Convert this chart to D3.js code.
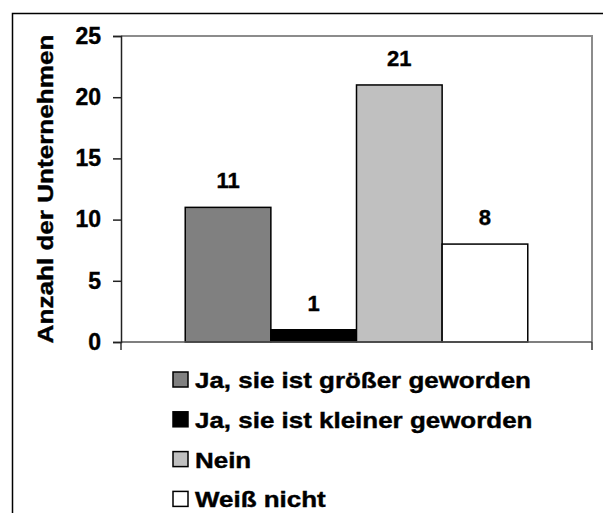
<!DOCTYPE html>
<html>
<head>
<meta charset="utf-8">
<script src="https://cdn.jsdelivr.net/npm/d3@7"></script>
<style>
  html, body { margin: 0; padding: 0; background: #fff; }
  svg { display: block; }
  text { font-family: "Liberation Sans", Arial, sans-serif; font-weight: bold; fill: #000; }
</style>
</head>
<body>
<svg id="chart" width="603" height="513"></svg>
<script>
const categories = [""];
const seriesNames = ["Ja, sie ist größer geworden", "Ja, sie ist kleiner geworden", "Nein", "Weiß nicht"];
const seriesValues = [11, 1, 21, 8];
const seriesColors = ["#808080", "#000000", "#c0c0c0", "#ffffff"];
const yTicks = [0, 5, 10, 15, 20, 25];
const yTitle = "Anzahl der Unternehmen";

const svg = d3.select("#chart");
const W = 603, H = 513;
svg.append("rect").attr("x", 0).attr("y", 0).attr("width", W).attr("height", H).attr("fill", "#fff");
// outer chart border (clipped on right/bottom)
svg.append("rect").attr("x", 12.5).attr("y", 13.5).attr("width", 620).attr("height", 540)
  .attr("fill", "none").attr("stroke", "#000").attr("stroke-width", 1.5);

const plot = { left: 121, right: 592, top: 36, bottom: 342 };

const y = d3.scaleLinear().domain([0, 25]).range([plot.bottom, plot.top]);
const x0 = d3.scaleBand().domain(categories).range([plot.left, plot.right]).paddingInner(0).paddingOuter(0.1875);
const x1 = d3.scaleBand().domain(seriesNames).range([0, x0.bandwidth()]).padding(0);

// plot area border (top & right)
svg.append("path")
  .attr("d", `M${plot.left},${plot.top}H${plot.right}V${plot.bottom}`)
  .attr("fill", "none").attr("stroke", "#8c8c8c").attr("stroke-width", 2);

// bars
const g = svg.append("g");
categories.forEach(cat => {
  seriesNames.forEach((s, i) => {
    const v = seriesValues[i];
    g.append("rect")
      .attr("x", x0(cat) + x1(s))
      .attr("y", y(v))
      .attr("width", x1.bandwidth())
      .attr("height", y(0) - y(v))
      .attr("fill", seriesColors[i])
      .attr("stroke", "#000").attr("stroke-width", 1.5);
    g.append("text")
      .attr("x", x0(cat) + x1(s) + x1.bandwidth() / 2)
      .attr("y", y(v) - 19)
      .attr("text-anchor", "middle")
      .attr("font-size", 22)
      .attr("stroke", "#000").attr("stroke-width", 0.4)
      .text(v);
  });
});

// x axis line with end ticks
svg.append("line").attr("x1", plot.left).attr("x2", plot.right).attr("y1", plot.bottom).attr("y2", plot.bottom)
  .attr("stroke", "#555").attr("stroke-width", 1.5);
[plot.left, plot.right].forEach(xx => {
  svg.append("line").attr("x1", xx).attr("x2", xx).attr("y1", plot.bottom).attr("y2", plot.bottom + 8)
    .attr("stroke", "#333").attr("stroke-width", 1.5);
});

// y axis
const yAxis = d3.axisLeft(y).tickValues(yTicks).tickSize(8).tickPadding(12).tickFormat(d3.format("d"));
const ya = svg.append("g").attr("transform", `translate(${plot.left},0)`).call(yAxis);
ya.select(".domain").attr("stroke", "#222").attr("stroke-width", 1.5);
ya.selectAll(".tick line").attr("stroke", "#222").attr("stroke-width", 1.5);
ya.selectAll(".tick text").attr("font-size", 23).attr("font-family", "Liberation Sans, Arial, sans-serif")
  .attr("font-weight", "bold").attr("fill", "#000").attr("stroke", "#000").attr("stroke-width", 0.4);

// y title (slightly widened to match the reference's wide bold face)
svg.append("text")
  .attr("transform", `translate(53,${(plot.top + plot.bottom) / 2}) rotate(-90) scale(1.16,1)`)
  .attr("text-anchor", "middle")
  .attr("font-size", 22.5)
  .attr("stroke", "#000").attr("stroke-width", 0.4)
  .text(yTitle);

// legend
const leg = svg.append("g").attr("transform", "translate(173,372)");
seriesNames.forEach((s, i) => {
  const row = leg.append("g").attr("transform", `translate(0,${i * 39.8})`);
  row.append("rect").attr("x", 0).attr("y", 0).attr("width", 15).attr("height", 15)
    .attr("fill", seriesColors[i]).attr("stroke", "#000").attr("stroke-width", 1.5);
  row.append("text").attr("transform", "translate(22,16) scale(1.18,1)")
    .attr("font-size", 22)
    .attr("stroke", "#000").attr("stroke-width", 0.4)
    .text(s);
});
</script>
</body>
</html>
